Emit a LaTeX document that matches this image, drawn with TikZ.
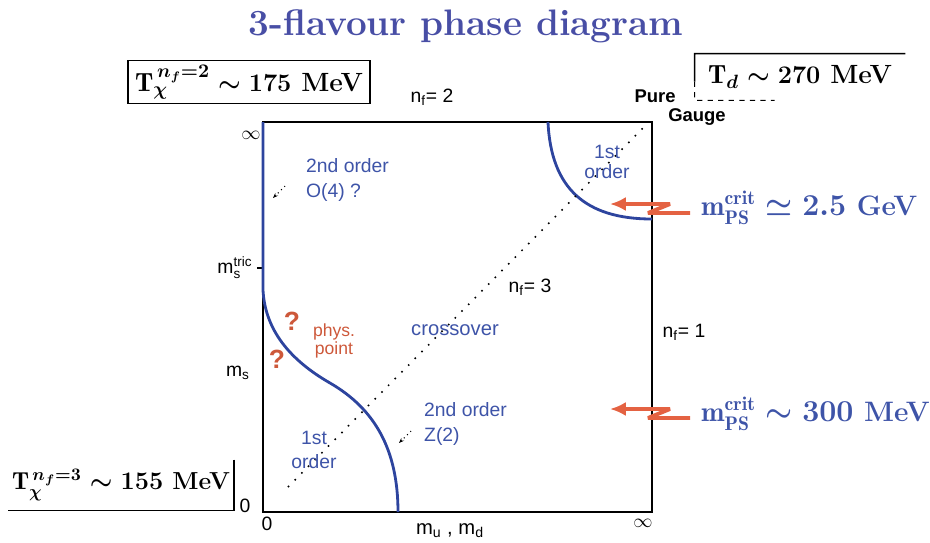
\documentclass[tikz,border=0pt]{standalone}
\usepackage{fontspec}
\setsansfont{Liberation Sans}
\usepackage{amsmath}
\usetikzlibrary{calc,arrows.meta}

\definecolor{titleblue}{RGB}{72,78,165}
\definecolor{curveblue}{RGB}{45,68,158}
\definecolor{labelblue}{RGB}{62,84,168}
\definecolor{arrowred}{RGB}{228,98,66}
\definecolor{physred}{RGB}{205,88,58}

\tikzset{
  phaseline/.style={curveblue, line width=1.6pt},
  zigarrow/.style={arrowred, line width=2.2pt, line join=bevel, -{Latex[length=9pt,width=8pt]}},
  bluelabel/.style={labelblue, font=\fontsize{11}{14}\selectfont\sffamily, align=center},
  axislabel/.style={font=\fontsize{11}{13}\selectfont\sffamily},
  tempbox/.style={font=\fontsize{15}{18}\selectfont\bfseries\boldmath, inner sep=2pt},
  critlabel/.style={labelblue, anchor=west, font=\fontsize{16}{19}\selectfont\bfseries\boldmath}
}

\begin{document}
\begin{tikzpicture}[x=0.02cm, y=-0.02cm]
\useasboundingbox (0,0) rectangle (930,542);

% ============================
% Title
% ============================
\node[titleblue, font=\fontsize{21}{25}\selectfont\bfseries] (title) at (466,26) {3-flavour phase diagram};

% ============================
% Frame of the plot
% ============================
\coordinate (o)  at (263,512);
\coordinate (xe) at (652,512);
\coordinate (ye) at (263,122);
\coordinate (te) at (652,122);
\coordinate (tric) at (263,268);

\draw[line width=1.3pt] (ye) rectangle (xe);
\draw[line width=0.9pt] (tric) -- ++(-6,0);

% ============================
% Phase boundaries
% ============================
\coordinate (lbend) at (263,290);
\coordinate (lmid)  at (330,383);
\coordinate (lbot)  at (398,512);
\coordinate (rtop)  at (548,122);
\coordinate (rend)  at (652,219);

\draw[phaseline] (ye) -- (lbend)
  .. controls (265,330) and (290,360) .. (lmid)
  .. controls (375,409) and (398,450) .. (lbot);
\draw[phaseline] (rtop) .. controls (551,188) and (585,219) .. (rend);

% n_f = 3 diagonal
\coordinate (dlo) at (288,487);
\coordinate (dhi) at (643,128);
\draw[line width=0.9pt, dash pattern=on 0.9pt off 4.5pt] (dlo) -- (dhi);

% small pointers
\draw[line width=0.6pt, dotted, -{Stealth[length=3pt]}] (285,186) -- (273,198);
\draw[line width=0.6pt, dotted, -{Stealth[length=3pt]}] (411,431) -- (399,443);

% ============================
% Axis labels
% ============================
\node[axislabel] (yinf) at (251,135) {$\infty$};
\node[axislabel] (ms3) at (235,268) {m$_{\mathsf{s}}^{\mathsf{tric}}$};
\node[axislabel] (ms)  at (238,373) {m$_{\mathsf{s}}$};
\node[axislabel] (y0)  at (245,506) {0};
\node[axislabel] (x0)  at (267,524) {0};
\node[axislabel] (xinf) at (643,523) {$\infty$};
\node[axislabel, font=\fontsize{11.5}{13}\selectfont\sffamily] (xlab) at (450,531) {m$_{\mathsf{u}}$ , m$_{\mathsf{d}}$};

\node[axislabel] (nf2) at (432,97) {n$_{\mathsf{f}}$= 2};
\node[axislabel] (nf3) at (530,287) {n$_{\mathsf{f}}$= 3};
\node[axislabel] (nf1) at (684,332) {n$_{\mathsf{f}}$= 1};
\node[axislabel, font=\fontsize{10.5}{12}\selectfont\sffamily\bfseries] (pure)  at (655,96) {Pure};
\node[axislabel, font=\fontsize{10.5}{12}\selectfont\sffamily\bfseries] (gauge) at (697,117) {Gauge};

% ============================
% Region labels
% ============================
\node[bluelabel, anchor=west, align=left] (o4) at (300,180) {2nd order\\O(4) ?};
\node[bluelabel, font=\fontsize{11}{11.5}\selectfont\sffamily] (first1) at (607,162) {1st\\order};
\node[bluelabel, font=\fontsize{11.5}{14}\selectfont\sffamily] (cross) at (455,330) {crossover};
\node[bluelabel, anchor=west, align=left] (z2) at (418,424) {2nd order\\Z(2)};
\node[bluelabel, font=\fontsize{11}{14}\selectfont\sffamily] (first2) at (314,450) {1st\\order};

\node[physred, font=\fontsize{15}{18}\selectfont\sffamily\bfseries] (q1) at (292,321) {?};
\node[physred, font=\fontsize{15}{18}\selectfont\sffamily\bfseries] (q2) at (277,359) {?};
\node[physred, font=\fontsize{10}{10}\selectfont\sffamily, align=center] (phys) at (334,341) {phys.\\point};

% ============================
% Temperature boxes
% ============================
\node[tempbox, draw, line width=0.9pt, minimum width=4.84cm, minimum height=0.86cm] (tc2) at (249,82)
  {$\mathrm{T}_{\chi}^{\,n_f=2} \sim 175$ MeV};

\node[tempbox, minimum width=4.2cm, minimum height=0.92cm] (td) at (800,77)
  {$\mathrm{T}_d \sim 270$ MeV};
\draw[line width=0.9pt] ($(td.north west)!0.6!(td.south west)$) -- (td.north west) -- (td.north east);
\draw[line width=0.6pt, dashed] ($(td.north west)!0.6!(td.south west)$) -- (td.south west) -- ++(80,0);

\node[tempbox, font=\fontsize{14}{17}\selectfont\bfseries\boldmath, minimum width=4.34cm, minimum height=1cm] (tc3) at (121,485)
  {$\mathrm{T}_{\chi}^{\,n_f=3} \sim 155$ MeV};
\draw[line width=0.9pt] (tc3.north east) -- (tc3.south east) -- (tc3.south west);

% ============================
% Critical masses
% ============================
\coordinate (aup) at (690,213);
\coordinate (alo) at (690,418);
\draw[zigarrow] (aup) -- ++(-42,0) -- ++(22,-9) -- ++(-60,0);
\draw[zigarrow] (alo) -- ++(-42,0) -- ++(22,-9) -- ++(-60,0);

\node[critlabel] (mup) at (695,208) {$\mathrm{m}_{\mathrm{PS}}^{\mathrm{crit}} \simeq 2.5$ GeV};
\node[critlabel] (mlo) at (695,414) {$\mathrm{m}_{\mathrm{PS}}^{\mathrm{crit}} \sim 300$ MeV};

\end{tikzpicture}
\end{document}
